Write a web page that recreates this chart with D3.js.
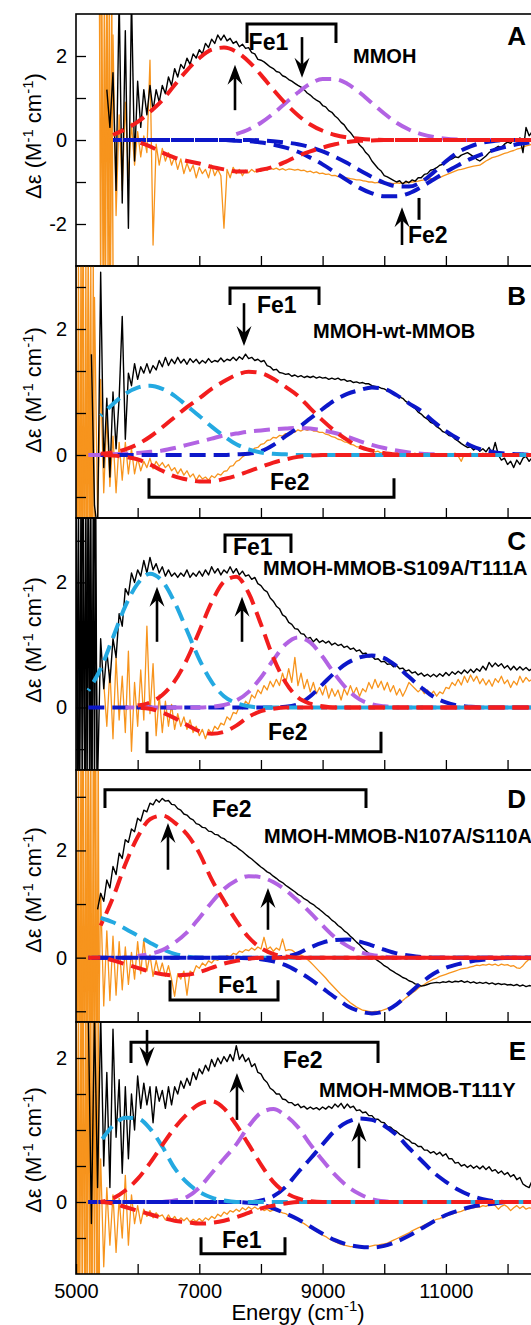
<!DOCTYPE html>
<html><head><meta charset="utf-8">
<script src="https://cdn.jsdelivr.net/npm/d3@7"></script>
<style>
body{margin:0;background:#fff}
svg{display:block}
text{font-family:"Liberation Sans",Arial,Helvetica,sans-serif}
</style>
</head><body>
<svg id="chart" width="531" height="1325"></svg>
<script>
// ---------------- DATA ----------------
// measured spectra: sampled every 50 cm-1 from the given start energy
const STEP = 50;
// saturated low-energy edge of the spectra, sampled every 20 cm-1
const EDGE_STEP = 20;

const A_black_start = 5500;
const A_black = [
1.2,0.3,1.6,-1.2,3.4,-1.5,2.6,-2.1,3.4,-0.5,
1.4,0.3,1.2,0.6,1.3,0.7,1.2,0.9,1.3,1.1,
1.5,1.3,1.7,1.5,1.8,1.7,1.95,1.8,2.05,1.95,
2.15,2.05,2.3,2.2,2.4,2.3,2.5,2.38,2.5,2.36,
2.42,2.3,2.35,2.22,2.28,2.18,2.2,2.08,2.05,1.92,
1.9,1.86,1.8,1.74,1.7,1.63,1.61,1.53,1.5,1.44,
1.4,1.35,1.3,1.26,1.2,1.12,1.07,1.0,0.95,0.91,
0.82,0.79,0.7,0.66,0.57,0.51,0.42,0.36,0.25,0.18,
0.08,0.01,-0.12,-0.19,-0.3,-0.37,-0.5,-0.59,-0.68,-0.74,
-0.85,-0.88,-0.92,-0.96,-1.0,-0.97,-1.05,-0.98,-1.02,-0.95,
-0.98,-0.9,-0.9,-0.82,-0.8,-0.72,-0.7,-0.66,-0.6,-0.58,
-0.52,-0.48,-0.45,-0.4,-0.42,-0.36,-0.33,-0.3,-0.35,-0.4,
-0.46,-0.5,-0.44,-0.38,-0.3,-0.25,-0.2,-0.15,-0.18,-0.1,
-0.05,-0.08,0.02,-0.04,0.05,-0.3,0.3,0.1,0.2];

const A_orange_start = 5400;
const A_orange = [
3.5,-3.5,3.5,-3.4,2.5,-1.8,0.6,-1.2,0.9,-0.9,
0.4,-0.6,0.2,-0.4,0.1,-0.3,1.9,-2.5,-0.1,-0.6,
-0.2,-0.5,-0.3,-0.6,-0.4,-0.7,-0.45,-0.8,-0.55,-0.75,
-0.6,-0.9,-0.65,-0.8,-0.7,-0.9,-0.6,-0.85,-0.7,-0.85,
-2.1,-0.7,-0.9,-0.65,-0.8,-0.7,-0.85,-0.72,-0.78,-0.7,
-0.76,-0.7,-0.74,-0.68,-0.72,-0.66,-0.7,-0.67,-0.71,-0.68,
-0.72,-0.69,-0.7,-0.72,-0.7,-0.73,-0.72,-0.76,-0.74,-0.78,
-0.76,-0.8,-0.79,-0.82,-0.81,-0.85,-0.84,-0.87,-0.86,-0.9,
-0.9,-0.92,-0.93,-0.95,-0.95,-0.97,-0.98,-1.0,-1.0,-1.02,
-1.01,-1.03,-1.02,-1.04,-1.03,-1.04,-1.02,-1.03,-1.02,-1.02,
-1.0,-1.0,-0.99,-0.98,-0.96,-0.95,-0.94,-0.92,-0.92,-0.9,
-0.9,-0.86,-0.83,-0.8,-0.77,-0.74,-0.71,-0.7,-0.68,-0.66,
-0.64,-0.62,-0.61,-0.6,-0.55,-0.5,-0.46,-0.42,-0.4,-0.38,
-0.35,-0.32,-0.3,-0.27,-0.25,-0.22,-0.2,-0.17,-0.14,-0.12,
-0.1];
const A_orange_edge_start = 5380;
const A_orange_edge = [3.5,-3.5,3.5,-3.5,3.5,-3.5,3.5,-3.5,3.5,-3.5,3.5,-3];

const B_black_start = 5250;
const B_black = [
1.6,-0.8,-1.2,2.9,-0.2,0.9,-0.35,1.0,0.1,0.9,
2.2,0.25,1.3,1.1,1.45,1.2,1.4,1.3,1.45,1.3,
1.42,1.35,1.5,1.4,1.55,1.42,1.52,1.45,1.55,1.46,
1.52,1.44,1.53,1.47,1.52,1.45,1.5,1.46,1.53,1.47,
1.5,1.48,1.54,1.48,1.52,1.5,1.55,1.5,1.56,1.52,
1.6,1.53,1.55,1.5,1.52,1.48,1.5,1.42,1.4,1.35,
1.36,1.31,1.3,1.28,1.29,1.25,1.27,1.24,1.26,1.23,
1.25,1.23,1.25,1.22,1.24,1.22,1.23,1.2,1.22,1.2,
1.22,1.19,1.2,1.17,1.18,1.15,1.16,1.14,1.15,1.13,
1.13,1.1,1.09,1.08,1.06,1.05,1.02,1.01,0.98,0.96,
0.92,0.9,0.85,0.82,0.77,0.74,0.68,0.65,0.6,0.57,
0.52,0.5,0.45,0.42,0.37,0.35,0.31,0.3,0.25,0.22,
0.18,0.15,0.12,0.13,0.08,0.12,0.06,0.1,0.05,0.12,
0.02,0.2,0.0,-0.08,-0.05,-0.15,-0.1,-0.2,-0.08,-0.15,
-0.05,-0.02,-0.1,-0.04];

const B_orange_start = 5000;
const B_orange = [
3,-3,3,-3,3,-3,2.5,-1,1.2,-0.6,
0.6,-0.5,0.3,-0.6,0.2,-0.4,0.2,-0.3,0.1,-0.3,
-0.05,-0.25,-0.1,-0.2,-0.05,-0.22,-0.1,-0.18,-0.12,-0.2,
-0.15,-0.25,-0.2,-0.3,-0.22,-0.32,-0.25,-0.35,-0.3,-0.4,
-0.32,-0.38,-0.35,-0.4,-0.33,-0.36,-0.3,-0.32,-0.26,-0.25,
-0.18,-0.17,-0.1,-0.08,-0.03,0.0,0.05,0.06,0.11,0.12,
0.17,0.18,0.23,0.24,0.28,0.27,0.31,0.3,0.34,0.33,
0.37,0.36,0.4,0.38,0.41,0.39,0.41,0.38,0.38,0.36,
0.36,0.33,0.32,0.29,0.28,0.25,0.24,0.21,0.2,0.17,
0.16,0.13,0.13,0.1,0.1,0.07,0.08,0.05,0.06,0.03,
0.05,0.01,0.03,0.0,0.03,0.01,0.02,-0.01,0.02,0.0,
0.03,-0.02,0.02,0.0,0.03,-0.01,0.02,-0.02,0.01,-0.01,
0.02,-0.02,0.01,0.03,-0.02,-0.1,0.02,0.0,0.03,-0.02,
0.02,0.0,0.03,-0.01,0.02,0.0,0.03,-0.02,0.02,-0.01,
0.02,0.0,0.03,-0.02,0.01,0.03,-0.01,0.02,0.0];
const B_orange_edge_start = 5000;
const B_orange_edge = [3,-3,3,-3,3,-3,3,-3,3,-3,3,-3,3,-3,3,-2];

const C_black_start = 5000;
const C_black = [
3.5,-1.5,3.5,-1.5,3.5,-1.5,3.5,-1.2,1.1,0.3,
0.9,0.4,1.1,0.8,1.5,1.3,1.9,1.8,2.15,2.0,
2.2,2.1,2.35,2.15,2.4,2.2,2.3,2.15,2.25,2.1,
2.2,2.1,2.15,2.08,2.15,2.1,2.2,2.08,2.15,2.1,
2.18,2.1,2.2,2.12,2.25,2.15,2.22,2.12,2.2,2.15,
2.25,2.15,2.22,2.12,2.18,2.1,2.12,2.05,2.08,1.98,
1.95,1.88,1.85,1.75,1.7,1.62,1.58,1.48,1.45,1.36,
1.33,1.26,1.25,1.18,1.17,1.1,1.12,1.05,1.1,1.04,
1.07,1.03,1.06,1.0,1.03,0.99,1.01,0.96,0.98,0.93,
0.95,0.9,0.92,0.86,0.87,0.81,0.82,0.77,0.78,0.73,
0.74,0.69,0.7,0.65,0.67,0.62,0.63,0.58,0.6,0.55,
0.57,0.52,0.55,0.5,0.53,0.49,0.53,0.49,0.54,0.5,
0.56,0.51,0.57,0.53,0.58,0.54,0.6,0.55,0.61,0.56,
0.62,0.58,0.66,0.6,0.72,0.65,0.71,0.66,0.7,0.63,
0.67,0.6,0.66,0.6,0.65,0.6,0.64,0.59,0.62];
const C_black_edge_start = 5000;
const C_black_edge = [3.5,-1.5,3.5,-1.5,3.5,-1.5,3.5,-1.5,3.5,-1.5,3.5,-1.5,3.5,-1.5,3.5,-1.5,3.5,-1.2];

const C_orange_start = 5450;
const C_orange = [
0.4,-0.3,0.6,-0.5,0.8,-0.2,0.5,-0.4,0.9,-0.7,
0.4,-0.3,0.6,-0.2,1.3,-0.1,0.7,-0.45,0.2,-0.4,
0.1,-0.3,0.05,-0.35,-0.1,-0.3,-0.15,-0.35,-0.2,-0.4,
-0.3,-0.45,-0.35,-0.5,-0.35,-0.42,-0.3,-0.35,-0.25,-0.28,
-0.15,-0.2,-0.08,-0.1,0.02,-0.02,0.1,0.05,0.2,0.15,
0.28,0.22,0.35,0.28,0.42,0.33,0.45,0.35,0.55,0.38,
0.62,0.4,0.8,0.35,0.55,0.3,0.45,0.25,0.4,0.22,
0.32,0.2,0.35,0.15,0.3,0.18,0.28,0.12,0.3,0.2,
0.35,0.22,0.32,0.18,0.3,0.25,0.4,0.3,0.45,0.32,
0.42,0.28,0.4,0.25,0.35,0.2,0.3,0.18,0.28,0.4,
0.35,0.3,0.25,0.3,0.22,0.28,0.2,0.26,0.18,0.25,
0.22,0.32,0.3,0.4,0.35,0.45,0.36,0.5,0.4,0.52,
0.42,0.5,0.38,0.46,0.36,0.44,0.34,0.46,0.4,0.5,
0.38,0.44,0.32,0.42,0.36,0.5,0.4,0.48,0.42,0.45];

const D_black_start = 5350;
const D_black = [
0.9,1.2,1.05,1.45,1.3,1.7,1.55,1.95,1.85,2.2,
2.15,2.4,2.35,2.6,2.55,2.75,2.72,2.88,2.85,2.95,
2.9,2.97,2.92,2.93,2.86,2.85,2.78,2.75,2.68,2.66,
2.6,2.57,2.5,2.48,2.43,2.42,2.36,2.35,2.3,2.29,
2.24,2.22,2.17,2.15,2.1,2.07,2.02,1.98,1.93,1.88,
1.84,1.79,1.74,1.69,1.65,1.6,1.57,1.52,1.48,1.43,
1.4,1.35,1.31,1.27,1.23,1.18,1.15,1.1,1.07,1.02,
0.99,0.94,0.9,0.85,0.8,0.76,0.7,0.66,0.6,0.56,
0.5,0.46,0.4,0.35,0.29,0.24,0.18,0.13,0.08,0.03,
-0.02,-0.06,-0.1,-0.15,-0.18,-0.23,-0.26,-0.3,-0.33,-0.37,
-0.39,-0.43,-0.45,-0.49,-0.5,-0.53,-0.52,-0.5,-0.48,-0.47,
-0.46,-0.47,-0.45,-0.46,-0.44,-0.46,-0.44,-0.45,-0.43,-0.46,
-0.44,-0.47,-0.45,-0.48,-0.46,-0.48,-0.46,-0.49,-0.47,-0.5,
-0.48,-0.5,-0.49,-0.51,-0.5,-0.52,-0.5,-0.53,-0.51,-0.54,
-0.52,-0.53];

const D_orange_start = 5000;
const D_orange = [
4,-4,4,-4,4,-4,4,-3,1.2,-0.9,
0.5,-0.8,0.4,-0.7,0.3,-0.6,0.2,-0.5,0.1,-0.4,
0.3,-0.3,0.35,-0.25,0.05,-0.35,-0.05,-0.3,-0.1,-0.35,
-0.15,-0.4,-0.72,-0.3,-0.4,-0.25,-0.7,-0.25,-0.3,-0.15,
-0.2,-0.1,-0.15,-0.06,-0.1,-0.03,-0.05,0.0,-0.02,0.04,
0.02,0.08,0.06,0.12,0.1,0.15,0.13,0.18,0.14,0.2,
0.16,0.38,0.15,0.2,0.12,0.18,0.14,0.35,0.13,0.15,
0.14,0.1,0.08,0.05,0.02,-0.03,-0.08,-0.14,-0.2,-0.26,
-0.32,-0.38,-0.45,-0.51,-0.57,-0.63,-0.69,-0.74,-0.79,-0.84,
-0.88,-0.92,-0.95,-0.98,-0.99,-1.0,-1.01,-1.0,-1.0,-0.99,
-0.97,-0.95,-0.93,-0.9,-0.87,-0.84,-0.8,-0.75,-0.71,-0.66,
-0.62,-0.57,-0.53,-0.5,-0.46,-0.43,-0.4,-0.38,-0.35,-0.33,
-0.31,-0.29,-0.27,-0.25,-0.23,-0.21,-0.2,-0.19,-0.17,-0.16,
-0.14,-0.15,-0.13,-0.14,-0.12,-0.14,-0.12,-0.15,-0.12,-0.14,
-0.13,-0.16,-0.15,-0.19,-0.2,-0.15,-0.08,-0.03,-0.05];
const D_orange_edge_start = 5000;
const D_orange_edge = [4,-4,4,-4,4,-4,4,-4,4,-4,4,-4,4,-4,4,-4,4,-4,4,-3];

const E_black_start = 5200;
const E_black = [
2.6,-0.3,2.6,0.2,2.6,0.5,1.8,0.2,2.4,0.9,
1.7,0.4,1.6,0.6,1.5,1.0,1.75,1.3,1.65,1.35,
1.6,1.1,1.6,1.4,1.55,1.3,1.6,1.35,1.6,1.5,
1.68,1.58,1.72,1.62,1.8,1.7,1.85,1.78,1.9,1.82,
1.98,1.88,2.0,1.92,2.02,1.95,2.05,1.96,2.17,1.98,
2.05,1.95,2.0,1.88,1.92,1.8,1.78,1.7,1.66,1.58,
1.55,1.5,1.5,1.43,1.42,1.38,1.38,1.34,1.36,1.31,
1.33,1.29,1.32,1.29,1.31,1.28,1.32,1.29,1.33,1.3,
1.36,1.32,1.37,1.3,1.36,1.31,1.33,1.27,1.28,1.24,
1.25,1.2,1.2,1.15,1.15,1.11,1.1,1.05,1.04,1.0,
0.98,0.94,0.92,0.88,0.86,0.82,0.81,0.77,0.77,0.72,
0.72,0.68,0.7,0.66,0.69,0.64,0.67,0.6,0.6,0.54,
0.55,0.5,0.52,0.48,0.51,0.47,0.5,0.46,0.5,0.45,
0.49,0.43,0.45,0.4,0.43,0.38,0.41,0.35,0.38,0.31,
0.34,0.25,0.22,0.2,0.3];

const E_orange_start = 5000;
const E_orange = [
3,-1.5,3,-1.5,3,-1.5,3,-1.5,0.6,-0.9,
0.2,-0.6,0.1,-0.7,0.05,-0.5,0.37,-0.6,0.1,-0.3,
-0.05,-0.3,-0.1,-0.2,-0.12,-0.22,-0.15,-0.2,-0.18,-0.25,
-0.18,-0.25,-0.2,-0.27,-0.22,-0.26,-0.22,-0.28,-0.24,-0.27,
-0.23,-0.27,-0.22,-0.25,-0.2,-0.23,-0.17,-0.2,-0.14,-0.17,
-0.12,-0.14,-0.1,-0.13,-0.08,-0.11,-0.07,-0.1,-0.07,-0.1,
-0.08,-0.12,-0.1,-0.13,-0.11,-0.12,-0.13,-0.15,-0.16,-0.19,
-0.2,-0.23,-0.25,-0.28,-0.3,-0.33,-0.36,-0.38,-0.41,-0.43,
-0.46,-0.48,-0.51,-0.53,-0.55,-0.57,-0.59,-0.6,-0.61,-0.62,
-0.62,-0.63,-0.62,-0.63,-0.62,-0.62,-0.61,-0.6,-0.6,-0.59,
-0.58,-0.57,-0.55,-0.53,-0.51,-0.49,-0.47,-0.45,-0.43,-0.4,
-0.38,-0.36,-0.34,-0.32,-0.3,-0.28,-0.26,-0.24,-0.23,-0.21,
-0.2,-0.18,-0.17,-0.15,-0.14,-0.13,-0.11,-0.1,-0.09,-0.08,
-0.07,-0.07,-0.05,-0.06,-0.04,-0.02,-0.05,-0.1,-0.06,-0.04,
-0.07,-0.12,-0.08,-0.05,-0.09,-0.06,-0.1,-0.08,-0.09];
const E_orange_edge_start = 5000;
const E_orange_edge = [3,-1.5,3,-1.5,3,-1.5,3,-1.5,3,-1.5,3,-1.5,3,-1.5,3,-1.5,3,-1.5,3,-1.2];

// Gaussian fit components, read at these energies
const fitE = [5200,5400,5600,5800,6000,6200,6400,6600,6800,7000,7200,7400,7600,7800,8000,8200,8400,8600,8800,9000,9200,9400,9600,9800,10000,10200,10400,10600,10800,11000,11200,11400,11600,11800,12000,12200,12400];

const A_fit_redPos = [null,null,0.12,0.26,0.43,0.67,0.95,1.31,1.66,1.95,2.15,2.2,2.1,1.87,1.55,1.2,0.87,0.59,0.37,0.22,0.12,0.06,0.03,0.01,0,0,0,0,0,0,0,0,0,0,0,0,0];
const A_fit_redNeg = [null,null,null,null,-0.05,-0.15,-0.3,-0.42,-0.5,-0.56,-0.64,-0.7,-0.75,-0.75,-0.71,-0.64,-0.52,-0.38,-0.27,-0.18,-0.1,-0.05,-0.02,-0.01,0,0,0,0,0,0,0,0,0,0,0,0,0];
const A_fit_purple = [null,null,null,null,null,null,null,null,null,null,null,null,0.14,0.25,0.41,0.63,0.88,1.13,1.34,1.45,1.45,1.34,1.13,0.88,0.63,0.41,0.25,0.14,0.07,0.03,0.01,0,0,0,0,0,0];
const A_fit_blue1 = [null,null,0,0,0,0,0,0,0,0,0,0,-0.02,-0.03,-0.06,-0.11,-0.18,-0.28,-0.42,-0.58,-0.77,-0.96,-1.14,-1.27,-1.34,-1.34,-1.27,-1.12,-0.94,-0.76,-0.6,-0.45,-0.33,-0.23,-0.15,-0.09,-0.05];
const A_fit_blue2 = [null,null,0,0,0,0,0,0,0,0,0,0,0,0,-0.01,-0.03,-0.06,-0.1,-0.17,-0.27,-0.4,-0.55,-0.72,-0.88,-1.02,-1.1,-1.11,-1.0,-0.77,-0.51,-0.29,-0.15,-0.06,-0.02,0,0,0];

const B_fit_cyan = [null,0.62,0.81,0.97,1.07,1.1,1.05,0.94,0.78,0.62,0.45,0.3,0.17,0.09,0.04,0.02,0.01,0,0,0,0,0,0,0,0,0,0,0,0,0,0,0,0,0,0,0,0];
const B_fit_redPos = [null,0.02,0.04,0.09,0.17,0.29,0.44,0.6,0.76,0.9,1.05,1.17,1.27,1.32,1.3,1.21,1.08,0.94,0.74,0.55,0.38,0.24,0.13,0.07,0.03,0.01,0,0,0,0,0,0,0,0,0,0,0];
const B_fit_redNeg = [null,0,-0.01,-0.03,-0.07,-0.15,-0.25,-0.34,-0.39,-0.42,-0.42,-0.38,-0.33,-0.26,-0.19,-0.12,-0.07,-0.03,-0.01,0,0,0,0,0,0,0,0,0,0,0,0,0,0,0,0,0,0];
const B_fit_purple = [0,0,0.01,0.02,0.03,0.05,0.07,0.11,0.16,0.21,0.26,0.31,0.34,0.37,0.39,0.41,0.42,0.43,0.42,0.39,0.35,0.29,0.22,0.16,0.11,0.07,0.04,0.02,0.01,0,0,0,0,0,0,0,0];
const B_fit_blue = [null,0,0,0,0,0,0,0,0,0,0,0,0.01,0.02,0.06,0.16,0.3,0.43,0.58,0.73,0.87,0.97,1.03,1.07,1.05,0.95,0.82,0.7,0.53,0.38,0.26,0.15,0.08,0.04,0.02,0.01,0];

const C_fit_cyan = [0.27,0.62,1.12,1.62,1.98,2.14,2.02,1.68,1.23,0.77,0.41,0.18,0.07,0.02,0,0,0,0,0,0,0,0,0,0,0,0,0,0,0,0,0,0,0,0,0,0,0];
const C_fit_redPos = [null,null,null,null,0.03,0.08,0.2,0.42,0.77,1.22,1.68,2.01,2.09,1.83,1.33,0.8,0.4,0.16,0.06,0.02,0,0,0,0,0,0,0,0,0,0,0,0,0,0,0,0,0];
const C_fit_redNeg = [null,null,null,null,0,-0.02,-0.08,-0.17,-0.28,-0.38,-0.42,-0.39,-0.29,-0.15,-0.06,-0.02,0,0,0,0,0,0,0,0,0,0,0,0,0,0,0,0,0,0,0,0,0];
const C_fit_purple = [null,null,null,0,0,0,0,0,0,0,0.01,0.04,0.11,0.25,0.48,0.76,1.01,1.12,1.04,0.81,0.53,0.29,0.13,0.05,0.02,0,0,0,0,0,0,0,0,0,0,0,0];
const C_fit_blue = [0,0,0,0,0,0,0,0,0,0,0,0,0,0,0,0,0.01,0.05,0.18,0.37,0.56,0.71,0.8,0.83,0.79,0.66,0.49,0.32,0.17,0.08,0.03,0.01,0,0,0,0,0];

const D_fit_cyan = [null,0.74,0.66,0.54,0.41,0.28,0.16,0.07,0.02,0,0,0,0,0,0,0,0,0,0,0,0,0,0,0,0,0,0,0,0,0,0,0,0,0,0,0,0];
const D_fit_redPos = [null,0.6,1.12,1.74,2.25,2.58,2.65,2.52,2.3,1.95,1.46,1.06,0.69,0.38,0.18,0.07,0.02,0,0,0,0,0,0,0,0,0,0,0,0,0,0,0,0,0,0,0,0];
const D_fit_redNeg = [0,0,-0.05,-0.12,-0.19,-0.26,-0.31,-0.33,-0.32,-0.27,-0.19,-0.11,-0.06,-0.02,0,0,0,0,0,0,0,0,0,0,0,0,0,0,0,0,0,0,0,0,0,0,0];
const D_fit_purple = [null,null,null,null,0.03,0.07,0.14,0.28,0.47,0.74,1.03,1.28,1.44,1.52,1.5,1.41,1.26,1.06,0.84,0.6,0.38,0.22,0.11,0.05,0.02,0,0,0,0,0,0,0,0,0,0,0,0];
const D_fit_bluePos = [0,0,0,0,0,0,0,0,0,0,0,0,0,0,0,0,0.02,0.08,0.19,0.28,0.33,0.34,0.3,0.23,0.15,0.08,0.04,0.01,0,0,0,0,0,0,0,0,0];
const D_fit_blueNeg = [0,0,0,0,0,0,0,0,0,0,0,0,0,-0.01,-0.03,-0.07,-0.14,-0.26,-0.4,-0.57,-0.74,-0.9,-1.0,-1.04,-1.0,-0.87,-0.67,-0.47,-0.3,-0.19,-0.12,-0.07,-0.04,-0.02,0,0,0];

const E_fit_cyan = [null,0.84,1.06,1.17,1.16,1.02,0.77,0.47,0.27,0.14,0.06,0.02,0,0,0,0,0,0,0,0,0,0,0,0,0,0,0,0,0,0,0,0,0,0,0,0,0];
const E_fit_redPos = [null,0,0.05,0.16,0.32,0.54,0.79,1.03,1.22,1.36,1.4,1.3,1.07,0.8,0.52,0.28,0.13,0.05,0.01,0,0,0,0,0,0,0,0,0,0,0,0,0,0,0,0,0,0];
const E_fit_redNeg = [null,0,-0.02,-0.07,-0.12,-0.17,-0.22,-0.26,-0.28,-0.3,-0.29,-0.26,-0.21,-0.15,-0.09,-0.05,-0.02,0,0,0,0,0,0,0,0,0,0,0,0,0,0,0,0,0,0,0,0];
const E_fit_purple = [null,null,null,null,null,null,0,0.02,0.07,0.2,0.4,0.6,0.8,1.05,1.24,1.29,1.2,1.04,0.8,0.58,0.38,0.22,0.11,0.04,0.01,0,0,0,0,0,0,0,0,0,0,0,0];
const E_fit_bluePos = [0,0,0,0,0,0,0,0,0,0,0,0,0,0,0.02,0.08,0.21,0.41,0.6,0.8,0.99,1.11,1.16,1.14,1.06,0.93,0.75,0.58,0.41,0.28,0.17,0.09,0.04,0.01,0,0,0];
const E_fit_blueNeg = [0,0,0,0,0,0,0,0,0,0,0,0,0,-0.01,-0.03,-0.09,-0.16,-0.24,-0.34,-0.44,-0.53,-0.59,-0.62,-0.63,-0.61,-0.55,-0.47,-0.37,-0.27,-0.18,-0.12,-0.07,-0.04,-0.02,0,0,0];

// annotations (energy, Δε)
const A_arrows = [[7579,0.71,1.79],[8666,2.45,1.48],[10288,-2.5,-1.6]];
const A_brackets = [[7774,9217,2.76,2.31]];
const A_bars = [[10564,-1.38,-1.9]];
const A_labels = [["Fe1",7800,2.14],["Fe2",10385,-2.45]];
const B_arrows = [[7725,2.41,1.73]];
const B_brackets = [[7498,8942,2.65,2.38],[6184,10158,-0.67,-0.37]];
const B_labels = [["Fe1",7936,2.25],["Fe2",8147,-0.56]];
const C_arrows = [[6314,1.05,1.93],[7693,1.05,1.77]];
const C_brackets = [[7417,8487,2.76,2.47],[6152,9947,-0.71,-0.39]];
const C_labels = [["Fe1",7547,2.44],["Fe2",8114,-0.52]];
const D_arrows = [[6492,1.64,2.51],[8114,0.52,1.3]];
const D_brackets = [[5470,9704,3.13,2.79],[6525,8277,-0.79,-0.42]];
const D_labels = [["Fe2",7206,2.62],["Fe1",7303,-0.66]];
const E_arrows = [[6152,2.39,1.88],[7611,1.14,1.79],[9590,0.47,1.11]];
const E_brackets = [[5892,9899,2.22,1.93],[7028,8390,-0.72,-0.49]];
const E_labels = [["Fe2",8358,1.86],["Fe1",7368,-0.64]];

const titles = ["MMOH","MMOH-wt-MMOB","MMOH-MMOB-S109A/T111A","MMOH-MMOB-N107A/S110A","MMOH-MMOB-T111Y"];
const letters = ["A","B","C","D","E"];
const xTickLabels = [5000,7000,9000,11000];

// ---------------- LAYOUT ----------------
const COL = {black:"#000", orange:"#f7941d", red:"#f21d1d", purple:"#b263e3", cyan:"#24a9e1", blue:"#0c17c9"};
const svg = d3.select("#chart");
const x = d3.scaleLinear().domain([5000,13000]).range([76, 76 + 8*61.65]);
const PH = 252;

const panels = [
 {top:14,  dom:[-3,3],     ticks:[-2,-1,0,1,2], labs:[-2,0,2],
  black:[A_black_start,A_black], orange:[A_orange_start,A_orange],
  edges:[[A_orange_edge_start,A_orange_edge,"orange"]],
  fits:[[A_fit_purple,"purple"],[A_fit_blue1,"blue"],[A_fit_blue2,"blue"],[A_fit_redNeg,"red"],[A_fit_redPos,"red"]],
  arrows:A_arrows, brackets:A_brackets, bars:A_bars, labels:A_labels,
  title:[353,49], letter:31, ylab:136},
 {top:266, dom:[-1,3],     ticks:[-2/3,0,2/3,4/3,2,8/3], labs:[0,2],
  black:[B_black_start,B_black], orange:[B_orange_start,B_orange],
  edges:[[B_orange_edge_start,B_orange_edge,"orange"]],
  fits:[[B_fit_purple,"purple"],[B_fit_blue,"blue"],[B_fit_cyan,"cyan"],[B_fit_redNeg,"red"],[B_fit_redPos,"red"]],
  arrows:B_arrows, brackets:B_brackets, bars:[], labels:B_labels,
  title:[313,72], letter:39, ylab:390},
 {top:518, dom:[-1,3.03],  ticks:[-2/3,0,2/3,4/3,2,8/3], labs:[0,2],
  black:[C_black_start,C_black], orange:[C_orange_start,C_orange],
  edges:[[C_black_edge_start,C_black_edge,"black"]],
  fits:[[C_fit_blue,"blue"],[C_fit_purple,"purple"],[C_fit_cyan,"cyan"],[C_fit_redNeg,"red"],[C_fit_redPos,"red"]],
  arrows:C_arrows, brackets:C_brackets, bars:[], labels:C_labels,
  title:[263,57], letter:32, ylab:640},
 {top:770, dom:[-1.2,3.5], ticks:[-1,0,1,2,3], labs:[0,2],
  black:[D_black_start,D_black], orange:[D_orange_start,D_orange],
  edges:[[D_orange_edge_start,D_orange_edge,"orange"]],
  fits:[[D_fit_cyan,"cyan"],[D_fit_purple,"purple"],[D_fit_bluePos,"blue"],[D_fit_blueNeg,"blue"],[D_fit_redNeg,"red"],[D_fit_redPos,"red"]],
  arrows:D_arrows, brackets:D_brackets, bars:[], labels:D_labels,
  title:[264,73], letter:38, ylab:890},
 {top:1022,dom:[-1,2.5],   ticks:[-0.5,0,0.5,1,1.5,2], labs:[0,2],
  black:[E_black_start,E_black], orange:[E_orange_start,E_orange],
  edges:[[E_orange_edge_start,E_orange_edge,"orange"]],
  fits:[[E_fit_purple,"purple"],[E_fit_bluePos,"blue"],[E_fit_blueNeg,"blue"],[E_fit_cyan,"cyan"],[E_fit_redNeg,"red"],[E_fit_redPos,"red"]],
  arrows:E_arrows, brackets:E_brackets, bars:[], labels:E_labels,
  title:[319,75], letter:38, ylab:1150}
];

const defs = svg.append("defs");

panels.forEach((p, pi) => {
  const y = d3.scaleLinear().domain(p.dom).range([p.top + PH, p.top]);
  const clipId = "clip" + pi;
  defs.append("clipPath").attr("id", clipId).append("rect")
    .attr("x", 76).attr("y", p.top).attr("width", 500).attr("height", PH);
  const g = svg.append("g");
  const plot = g.append("g").attr("clip-path", `url(#${clipId})`);

  const seq = (start, vals, step) => vals.map((v, i) => ({e: start + i*step, v}));
  const rawLine = d3.line().x(d => x(d.e)).y(d => y(d.v));
  const drawRaw = (data, color, w) => plot.append("path").attr("d", rawLine(data))
    .attr("fill","none").attr("stroke",COL[color]).attr("stroke-width",w).attr("stroke-linejoin","round");

  p.edges.filter(e => e[2] === "orange").forEach(e => drawRaw(seq(e[0], e[1], EDGE_STEP), "orange", 1.4));
  drawRaw(seq(p.orange[0], p.orange[1], STEP), "orange", 1.3);
  p.edges.filter(e => e[2] === "black").forEach(e => drawRaw(seq(e[0], e[1], EDGE_STEP), "black", 1.4));
  drawRaw(seq(p.black[0], p.black[1], STEP), "black", 1.4);

  const fitLine = d3.line().defined(d => d.v !== null).curve(d3.curveMonotoneX)
    .x(d => x(d.e)).y(d => y(d.v));
  p.fits.forEach(([arr, c], fi) => {
    plot.append("path").attr("d", fitLine(fitE.map((e, i) => ({e, v: arr[i]}))))
      .attr("fill","none").attr("stroke",COL[c]).attr("stroke-width",4)
      .attr("stroke-dasharray","16,8").attr("stroke-dashoffset", fi*7);
  });

  // frame
  g.append("rect").attr("x",76).attr("y",p.top).attr("width",560).attr("height",PH)
    .attr("fill","none").attr("stroke","#000").attr("stroke-width",1.6);

  // y axis
  const ya = d3.axisLeft(y).tickValues(p.ticks).tickSize(-10).tickPadding(9)
    .tickFormat(d => p.labs.some(l => Math.abs(l-d) < 1e-6) ? String(Math.round(d)) : "");
  const yg = g.append("g").attr("transform","translate(76,0)").call(ya);
  yg.select(".domain").remove();
  yg.selectAll("line").attr("stroke-width",1.3);
  yg.selectAll("text").attr("font-size",20).attr("font-family","Liberation Sans, Arial, sans-serif").attr("fill","#000");

  // x axis (bottom of each panel, inward ticks)
  const last = pi === panels.length - 1;
  const xa = d3.axisBottom(x).tickValues([6000,7000,8000,9000,10000,11000,12000].concat(last ? [5000] : []))
    .tickSize(-10).tickPadding(10)
    .tickFormat(d => last && xTickLabels.includes(d) ? String(d) : "");
  const xg = g.append("g").attr("transform",`translate(0,${p.top+PH})`).call(xa);
  xg.select(".domain").remove();
  xg.selectAll("line").attr("stroke-width",1.3);
  xg.selectAll("text").attr("font-size",20).attr("font-family","Liberation Sans, Arial, sans-serif").attr("fill","#000");

  // y label
  const yl = g.append("text").attr("transform",`translate(41,${p.ylab}) rotate(-90)`)
    .attr("text-anchor","middle").attr("font-size",22);
  yl.append("tspan").text("Δε (M");
  yl.append("tspan").attr("font-size",15).attr("dy",-8).text("-1");
  yl.append("tspan").attr("dy",8).text(" cm");
  yl.append("tspan").attr("font-size",15).attr("dy",-8).text("-1");
  yl.append("tspan").attr("dy",8).text(")");

  // annotations
  p.brackets.forEach(([e1,e2,v,v2]) => {
    g.append("path").attr("d",`M${x(e1)},${y(v2)}L${x(e1)},${y(v)}L${x(e2)},${y(v)}L${x(e2)},${y(v2)}`)
      .attr("fill","none").attr("stroke","#000").attr("stroke-width",3);
  });
  p.bars.forEach(([e,v1,v2]) => {
    g.append("line").attr("x1",x(e)).attr("x2",x(e)).attr("y1",y(v1)).attr("y2",y(v2))
      .attr("stroke","#000").attr("stroke-width",3);
  });
  p.arrows.forEach(([e,vTail,vTip]) => {
    const xp = x(e), yT = y(vTail), yP = y(vTip);
    const dir = yP < yT ? -1 : 1;
    const L = 20, hw = 7.5, notch = 13;
    g.append("line").attr("x1",xp).attr("x2",xp).attr("y1",yT).attr("y2",yP - dir*notch)
      .attr("stroke","#000").attr("stroke-width",2.6);
    g.append("path").attr("d",`M${xp},${yP}L${xp-hw},${yP-dir*L}L${xp},${yP-dir*notch}L${xp+hw},${yP-dir*L}Z`)
      .attr("fill","#000");
  });
  p.labels.forEach(([t,e,v]) => {
    g.append("text").attr("x",x(e)).attr("y",y(v)).attr("font-size",23).attr("font-weight","bold").text(t);
  });
  g.append("text").attr("x",p.title[0]).attr("y",p.top + p.title[1]).attr("font-size",20)
    .attr("font-weight","bold").text(titles[pi]);
  g.append("text").attr("x",526).attr("y",p.top + p.letter).attr("text-anchor","end")
    .attr("font-size",26).attr("font-weight","bold").text(letters[pi]);
});

// x axis title
const xt = svg.append("text").attr("x",298).attr("y",1320).attr("text-anchor","middle").attr("font-size",22);
xt.append("tspan").text("Energy (cm");
xt.append("tspan").attr("font-size",15).attr("dy",-9).text("-1");
xt.append("tspan").attr("dy",9).text(")");
</script>
</body></html>
